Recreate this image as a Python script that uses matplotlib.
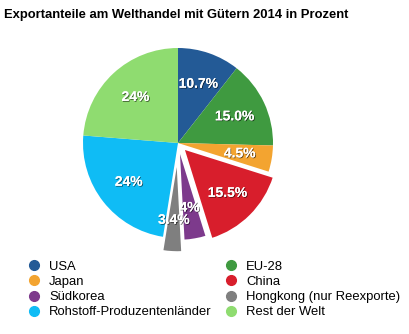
import matplotlib.pyplot as plt
import matplotlib.patheffects as pe
from matplotlib.lines import Line2D

plt.rcParams['font.family'] = ['Liberation Sans', 'DejaVu Sans']

# -----------------------------
# Data
# -----------------------------
regions = ['USA', 'EU-28', 'Japan', 'China', 'Südkorea',
           'Hongkong (nur Reexporte)', 'Rohstoff-Produzentenländer', 'Rest der Welt']
shares = [10.7, 15.0, 4.5, 15.5, 4.0, 3.4, 24.0, 24.0]
share_labels = ['10.7%', '15.0%', '4.5%', '15.5%', '4%', '3.4%', '24%', '24%']
colors = ['#235a96', '#3f9a40', '#f3a430', '#d81e2c', '#7d3a8c',
          '#7f7f7f', '#0fbcf5', '#8fdc70']
explode = [0, 0, 0, 0.08, 0.03, 0.15, 0, 0]

W, H = 410, 334
fig = plt.figure(figsize=(W / 100, H / 100), dpi=100)

# pie centred at (178, 143) px, radius 95 px
cx, cy, r = 178, 143, 95
half = 120
ax = fig.add_axes([(cx - half) / W, (H - cy - half) / H, 2 * half / W, 2 * half / H])
lab = iter(share_labels)
wedges, texts, autotexts = ax.pie(
    shares, colors=colors, explode=explode, startangle=90, counterclock=False,
    autopct=lambda p: next(lab), pctdistance=0.66,
    textprops=dict(color='white', fontsize=10, fontweight='bold'))
for w, e in zip(wedges, explode):
    if e > 0:
        w.set_edgecolor('white')
        w.set_linewidth(1.5)
for t in autotexts:
    t.set_path_effects([pe.withSimplePatchShadow(offset=(0.6, -0.6), shadow_rgbFace='black', alpha=0.6),
                        pe.Normal()])
ax.set_xlim(-half / r, half / r)
ax.set_ylim(-half / r, half / r)
ax.set_aspect('equal')
ax.axis('off')

fig.text(4 / W, 1 - 15 / H, 'Exportanteile am Welthandel mit Gütern 2014 in Prozent',
         fontsize=9.4, fontweight='bold', va='center', ha='left')

# -----------------------------
# Legend (two columns, row-wise order)
# -----------------------------
order = [0, 2, 4, 6, 1, 3, 5, 7]
handles = [Line2D([], [], marker='o', linestyle='', markersize=7,
                  markerfacecolor=colors[i], markeredgecolor=colors[i]) for i in order]
fig.legend(handles, [regions[i] for i in order], ncol=2, frameon=False,
           loc='upper left', bbox_to_anchor=(30 / W, 1 - 260.5 / H),
           fontsize=9.4, handlelength=0.6, handletextpad=0.85, columnspacing=1.2,
           labelspacing=0.24, borderaxespad=0, borderpad=0)

fig.savefig('out.png', dpi=100)
